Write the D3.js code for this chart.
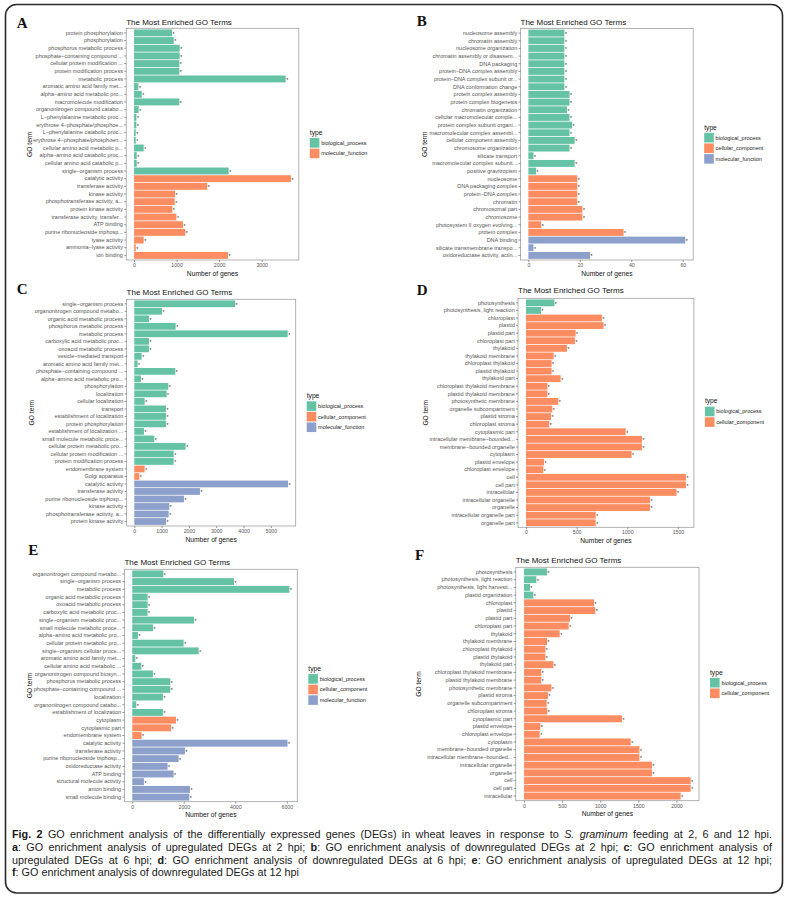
<!DOCTYPE html>
<html><head><meta charset="utf-8">
<script src="https://cdn.jsdelivr.net/npm/d3@7"></script>
<style>body{margin:0;background:#fff} svg{display:block}</style>
</head><body>
<svg id="fig" width="788" height="903"></svg>
<script>
// ---------------- DATA ----------------
const termsA = ["protein phosphorylation","phosphorylation","phosphorus metabolic process","phosphate−containing compound ...","cellular protein modification ...","protein modification process","metabolic process","aromatic amino acid family met...","alpha−amino acid metabolic pro...","macromolecule modification","organonitrogen compound catabo...","L−phenylalanine metabolic proc...","erythrose 4−phosphate/phosphoe...","L−phenylalanine catabolic proc...","erythrose 4−phosphate/phosphoen...","cellular amino acid metabolic p...","alpha−amino acid catabolic proc...","cellular amino acid catabolic p...","single−organism process","catalytic activity","transferase activity","kinase activity","phosphotransferase activity, a...","protein kinase activity","transferase activity, transfer...","ATP binding","purine ribonucleoside triphosp...","lyase activity","ammonia−lyase activity","ion binding"];
const valuesA = [893,932,1073,1073,1065,1065,3563,102,180,1065,110,55,55,39,39,227,63,63,2224,3688,1720,963,955,900,995,1151,1206,227,39,2208];
const typesA = ["BP","BP","BP","BP","BP","BP","BP","BP","BP","BP","BP","BP","BP","BP","BP","BP","BP","BP","BP","MF","MF","MF","MF","MF","MF","MF","MF","MF","MF","MF"];
const ticksA = [0,1000,2000,3000];

const termsB = ["nucleosome assembly","chromatin assembly","nucleosome organization","chromatin assembly or disassem...","DNA packaging","protein−DNA complex assembly","protein−DNA complex subunit or...","DNA conformation change","protein complex assembly","protein complex biogenesis","chromatin organization","cellular macromolecular comple...","protein complex subunit organi...","macromolecular complex assembl...","cellular component assembly","chromosome organization","silicate transport","macromolecular complex subunit...","positive gravitropism","nucleosome","DNA packaging complex","protein−DNA complex","chromatin","chromosomal part","chromosome","photosystem II oxygen evolving...","protein complex","DNA binding","silicate transmembrane transpo...","oxidoreductase activity, actin..."];
const valuesB = [14,14,14,14,14,14,14,14,16,16,15,16,17,16,18,16,2,18,3,19,19,19,19,21,21,5,37,61,2,24];
const typesB = ["BP","BP","BP","BP","BP","BP","BP","BP","BP","BP","BP","BP","BP","BP","BP","BP","BP","BP","BP","CC","CC","CC","CC","CC","CC","CC","CC","MF","MF","MF"];
const ticksB = [0,20,40,60];

const termsC = ["single−organism process","organonitrogen compound metabo...","organic acid metabolic process","phosphorus metabolic process","metabolic process","carboxylic acid metabolic proc...","oxoacid metabolic process","vesicle−mediated transport","aromatic amino acid family met...","phosphate−containing compound ...","alpha−amino acid metabolic pro...","phosphorylation","localization","cellular localization","transport","establishment of localization","protein phosphorylation","establishment of localization ...","small molecule metabolic proce...","cellular protein metabolic pro...","cellular protein modification ...","protein modification process","endomembrane system","Golgi apparatus","catalytic activity","transferase activity","purine ribonucleoside triphosp...","kinase activity","phosphotransferase activity, a...","protein kinase activity"];
const valuesC = [3690,1013,537,1514,5617,537,537,269,122,1502,244,1245,1184,379,1160,1160,1160,354,733,1880,1441,1441,379,183,5629,2405,1819,1282,1258,1160];
const typesC = ["BP","BP","BP","BP","BP","BP","BP","BP","BP","BP","BP","BP","BP","BP","BP","BP","BP","BP","BP","BP","BP","BP","CC","CC","MF","MF","MF","MF","MF","MF"];
const ticksC = [0,1000,2000,3000,4000,5000];

const termsD = ["photosynthesis","photosynthesis, light reaction","chloroplast","plastid","plastid part","chloroplast part","thylakoid","thylakoid membrane","chloroplast thylakoid","plastid thylakoid","thylakoid part","chloroplast thylakoid membrane","plastid thylakoid membrane","photosynthetic membrane","organelle subcompartment","plastid stroma","chloroplast stroma","cytoplasmic part","intracellular membrane−bounded...","membrane−bounded organelle","cytoplasm","plastid envelope","chloroplast envelope","cell","cell part","intracellular","intracellular organelle","organelle","intracellular organelle part","organelle part"];
const valuesD = [280,148,750,766,490,484,405,273,253,253,342,211,211,319,260,247,230,984,1145,1145,1043,178,171,1579,1579,1487,1224,1224,688,688];
const typesD = ["BP","BP","CC","CC","CC","CC","CC","CC","CC","CC","CC","CC","CC","CC","CC","CC","CC","CC","CC","CC","CC","CC","CC","CC","CC","CC","CC","CC","CC","CC"];
const ticksD = [0,500,1000,1500];

const termsE = ["organonitrogen compound metabo...","single−organism process","metabolic process","organic acid metabolic process","oxoacid metabolic process","carboxylic acid metabolic proc...","single−organism metabolic proc...","small molecule metabolic proce...","alpha−amino acid metabolic pro...","cellular protein metabolic pro...","single−organism cellular proce...","aromatic amino acid family met...","cellular amino acid metabolic ...","organonitrogen compound biosyn...","phosphorus metabolic process","phosphate−containing compound ...","localization","organonitrogen compound catabo...","establishment of localization","cytoplasm","cytoplasmic part","endomembrane system","catalytic activity","transferase activity","purine ribonucleoside triphosp...","oxidoreductase activity","ATP binding","structural molecule activity","anion binding","small molecule binding"];
const valuesE = [1205,3950,6100,595,595,595,2395,803,220,1994,2576,117,350,803,1476,1476,1191,155,1191,1696,1502,362,6026,2045,1799,1372,1605,453,2240,2214];
const typesE = ["BP","BP","BP","BP","BP","BP","BP","BP","BP","BP","BP","BP","BP","BP","BP","BP","BP","BP","BP","CC","CC","CC","MF","MF","MF","MF","MF","MF","MF","MF"];
const ticksE = [0,2000,4000,6000];

const termsF = ["photosynthesis","photosynthesis, light reaction","photosynthesis, light harvesti...","plastid organization","chloroplast","plastid","plastid part","chloroplast part","thylakoid","thylakoid membrane","chloroplast thylakoid","plastid thylakoid","thylakoid part","chloroplast thylakoid membrane","plastid thylakoid membrane","photosynthetic membrane","plastid stroma","organelle subcompartment","chloroplast stroma","cytoplasmic part","plastid envelope","chloroplast envelope","cytoplasm","membrane−bounded organelle","intracellular membrane−bounded...","intracellular organelle","organelle","cell","cell part","intracellular"];
const valuesF = [302,162,79,122,919,936,604,586,468,302,280,280,385,227,227,359,315,297,306,1286,214,206,1400,1514,1514,1680,1680,2187,2187,2056];
const typesF = ["BP","BP","BP","BP","CC","CC","CC","CC","CC","CC","CC","CC","CC","CC","CC","CC","CC","CC","CC","CC","CC","CC","CC","CC","CC","CC","CC","CC","CC","CC"];
const ticksF = [0,500,1000,1500,2000];

const typeOrder = ["BP","CC","MF"];
const typeNames = {BP:"biological_process", CC:"cellular_component", MF:"molecular_function"};

const captionLines = [
  [["Fig. 2","b"],[" GO enrichment analysis of the differentially expressed genes (DEGs) in wheat leaves in response to ",""],["S. graminum","i"],[" feeding at 2, 6 and 12 hpi.",""]],
  [["a","b"],[": GO enrichment analysis of upregulated DEGs at 2 hpi; ",""],["b","b"],[": GO enrichment analysis of downregulated DEGs at 2 hpi; ",""],["c","b"],[": GO enrichment analysis of",""]],
  [["upregulated DEGs at 6 hpi; ",""],["d","b"],[": GO enrichment analysis of downregulated DEGs at 6 hpi; ",""],["e","b"],[": GO enrichment analysis of upregulated DEGs at 12 hpi;",""]],
  [["f","b"],[": GO enrichment analysis of downregulated DEGs at 12 hpi",""]]
];

// ---------------- STYLE / LAYOUT ----------------
const palette = ["#66c2a5","#fc8d62","#8da0cb"];   // ggplot Set2, assigned to the levels present
const SANS = "'Liberation Sans', Arial, Helvetica, sans-serif";
const layout = {
  A:{lx:16.7, ly:28, left:126.2, right:298.8, top:28.3, bottom:260, titleY:25.3, ylabX:32},
  B:{lx:416.7, ly:26, left:520.5, right:693.2, top:28.5, bottom:260, titleY:25, ylabX:427},
  C:{lx:16.7, ly:294, left:126.6, right:295.7, top:299.3, bottom:526, titleY:295, ylabX:34},
  D:{lx:416.7, ly:295, left:518, right:693.9, top:298.3, bottom:527.3, titleY:293.3, ylabX:428},
  E:{lx:28.3, ly:555, left:124.4, right:297.3, top:569.3, bottom:801.7, titleY:565, ylabX:32},
  F:{lx:415, ly:560, left:515.7, right:699, top:567.3, bottom:800.7, titleY:563.3, ylabX:421}
};

const svg = d3.select("#fig");
svg.append("rect").attr("width",788).attr("height",903).attr("fill","#fff");
svg.append("rect").attr("x",5.5).attr("y",4.5).attr("width",777).attr("height",888.5)
  .attr("rx",11).attr("fill","none").attr("stroke","#2b2b2b").attr("stroke-width",1.6);

function drawPanel(letter, terms, values, types, ticks, L){
  const g = svg.append("g").attr("font-family", SANS);
  const present = typeOrder.filter(t=>types.includes(t));
  const color = d3.scaleOrdinal().domain(present).range(palette);
  const M = d3.max(values);
  const x = d3.scaleLinear().domain([-0.05*M, 1.05*M]).range([L.left, L.right]);
  const y = d3.scaleBand().domain(d3.range(terms.length)).range([L.top, L.bottom])
    .paddingInner(0.1).paddingOuter(0.15);

  svg.append("text").attr("x",L.lx).attr("y",L.ly).text(letter)
    .attr("font-family","'Liberation Serif', 'Times New Roman', serif").attr("font-weight","bold")
    .attr("font-size",15).attr("fill","#111");
  g.append("text").attr("x",L.left).attr("y",L.titleY).text("The Most Enriched GO Terms")
    .attr("font-size",8).attr("fill","#111");

  g.append("rect").attr("x",L.left).attr("y",L.top).attr("width",L.right-L.left)
    .attr("height",L.bottom-L.top).attr("fill","#fff");
  g.append("g").selectAll("rect").data(values).join("rect")
    .attr("x", x(0)).attr("y",(d,i)=>y(i)).attr("width",d=>x(d)-x(0))
    .attr("height",y.bandwidth()).attr("fill",(d,i)=>color(types[i]));
  g.append("g").selectAll("text").data(values).join("text")
    .attr("x",d=>x(d)+0.5).attr("y",(d,i)=>y(i)+y.bandwidth()/2+2.9)
    .attr("font-size",5).attr("fill","#222").text("*");
  g.append("rect").attr("x",L.left).attr("y",L.top).attr("width",L.right-L.left)
    .attr("height",L.bottom-L.top).attr("fill","none").attr("stroke","#a0a0a0").attr("stroke-width",0.8);

  const ya = g.append("g").attr("transform",`translate(${L.left},0)`)
    .call(d3.axisLeft(y).tickFormat(i=>terms[i]).tickSize(2).tickPadding(1.3));
  ya.select(".domain").remove();
  ya.attr("font-family",SANS).attr("font-size",5.5);
  ya.selectAll(".tick line").attr("stroke","#555").attr("stroke-width",0.6);
  ya.selectAll(".tick text").attr("fill","#555");

  const xa = g.append("g").attr("transform",`translate(0,${L.bottom})`)
    .call(d3.axisBottom(x).tickValues(ticks).tickFormat(d3.format("d")).tickSize(2).tickPadding(1.5));
  xa.select(".domain").remove();
  xa.attr("font-family",SANS).attr("font-size",5.2);
  xa.selectAll(".tick line").attr("stroke","#555").attr("stroke-width",0.6);
  xa.selectAll(".tick text").attr("fill","#555");

  g.append("text").attr("x",(L.left+L.right)/2).attr("y",L.bottom+15.5).attr("text-anchor","middle")
    .attr("font-size",6.7).attr("fill","#111").text("Number of genes");
  g.append("text").attr("transform",`translate(${L.ylabX},${(L.top+L.bottom)/2}) rotate(-90)`)
    .attr("text-anchor","middle").attr("font-size",6.7).attr("fill","#111").text("GO term");

  const step = 10.6, key = 9.6;
  const total = 8 + present.length*step;
  const top = (L.top+L.bottom)/2 - total/2;
  const lx = L.right + 11;
  g.append("text").attr("x",lx).attr("y",top+5.2).attr("font-size",6.7).attr("fill","#111").text("type");
  const lg = g.append("g").selectAll("g").data(present).join("g")
    .attr("transform",(t,j)=>`translate(${lx},${top+8.5+j*step})`);
  lg.append("rect").attr("width",key).attr("height",key).attr("fill",t=>color(t));
  lg.append("text").attr("x",key+1.8).attr("y",key/2+2).attr("font-size",5.5).attr("fill","#222")
    .text(t=>typeNames[t]);
}

drawPanel("A", termsA, valuesA, typesA, ticksA, layout.A);
drawPanel("B", termsB, valuesB, typesB, ticksB, layout.B);
drawPanel("C", termsC, valuesC, typesC, ticksC, layout.C);
drawPanel("D", termsD, valuesD, typesD, ticksD, layout.D);
drawPanel("E", termsE, valuesE, typesE, ticksE, layout.E);
drawPanel("F", termsF, valuesF, typesF, ticksF, layout.F);

// ---------------- CAPTION (justified, word by word) ----------------
const capX = 12, capW = 760, capY0 = 838, capDy = 12.8;
const CAPFONT = "'Liberation Sans', Arial, sans-serif";
const cap = svg.append("g").attr("font-family",CAPFONT).attr("fill","#1a1a1a");
function styleText(t, st, fs){
  t.attr("font-size",fs);
  if(st==="b") t.attr("font-weight","bold");
  if(st==="i") t.attr("font-style","italic");
  return t;
}
function measure(s, st, fs){
  const t = styleText(cap.append("text").attr("x",0).attr("y",-50).text(s), st, fs);
  const w = t.node().getComputedTextLength(); t.remove(); return w;
}
function toWords(segs){
  const words = [[]];
  segs.forEach(([s,st])=>{
    const parts = s.split(" ");
    parts.forEach((p,k)=>{
      if(k>0) words.push([]);
      if(p.length) words[words.length-1].push([p,st]);
    });
  });
  return words.filter(w=>w.length);
}
function naturalWidth(segs, fs){
  const words = toWords(segs);
  const sp = measure("a a", "", fs) - measure("aa", "", fs);
  return d3.sum(words, w=>d3.sum(w, p=>measure(p[0],p[1],fs))) + sp*(words.length-1);
}
const fs = Math.min(10.8, 10*(capW-4)/naturalWidth(captionLines[0], 10));
const spaceW = measure("a a", "", fs) - measure("aa", "", fs);
captionLines.forEach((segs,k)=>{
  const words = toWords(segs);
  const widths = words.map(w=>w.map(p=>measure(p[0],p[1],fs)));
  const wordW = widths.map(a=>d3.sum(a));
  const justify = k < captionLines.length-1;
  const gap = justify ? (capW - d3.sum(wordW))/(words.length-1) : spaceW;
  let xx = capX;
  const yy = capY0 + k*capDy;
  words.forEach((w,i)=>{
    let px = xx;
    w.forEach((p,j)=>{
      styleText(cap.append("text").attr("x",px).attr("y",yy).text(p[0]), p[1], fs);
      px += widths[i][j];
    });
    xx += wordW[i] + gap;
  });
});
</script>
</body></html>
